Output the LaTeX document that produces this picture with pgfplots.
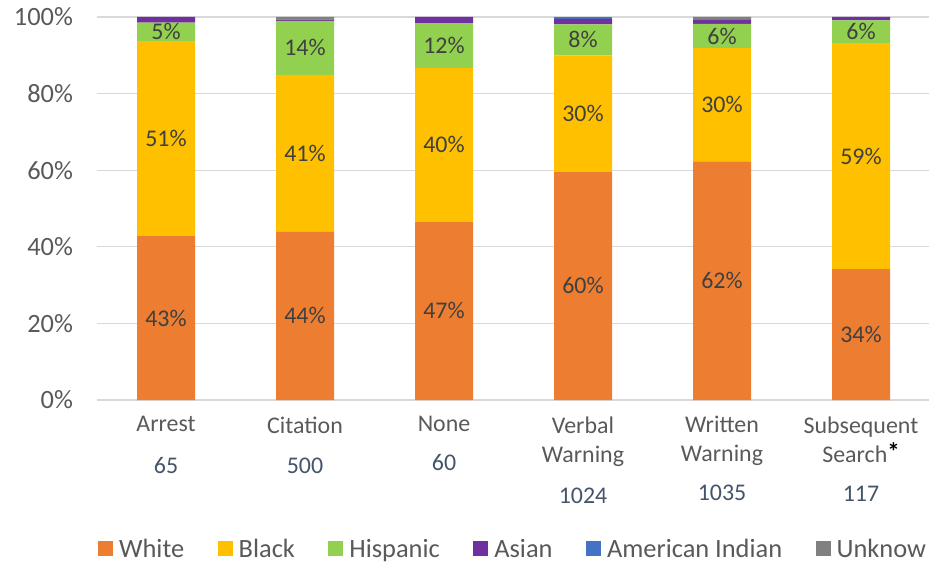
\documentclass[border=0pt]{standalone}
\usepackage{pgfplots}
\pgfplotsset{compat=1.18}
\usepackage{fontspec}
\setmainfont{Carlito}
\definecolor{cWhite}{HTML}{ED7D31}
\definecolor{cBlack}{HTML}{FFC000}
\definecolor{cHisp}{HTML}{92D050}
\definecolor{cAsian}{HTML}{7030A0}
\definecolor{cAI}{HTML}{4472C4}
\definecolor{cUnk}{HTML}{808080}
\definecolor{labgray}{HTML}{595959}
\definecolor{valtext}{HTML}{404040}
\definecolor{numblue}{HTML}{44546A}
\definecolor{gridgray}{HTML}{D9D9D9}
\newcommand{\cfont}{\fontsize{24}{29}\selectfont}
\newcommand{\bfont}{\fontsize{26.5}{31}\selectfont}
\tikzset{vl/.style={font=\cfont, text=valtext}, nl/.style={font=\cfont, text=numblue}}
\pgfplotsset{geom/.style={at={(96.5bp,164bp)}, anchor=south west,
  width=834bp, height=383bp, scale only axis,
  xmin=-0.5, xmax=5.5, ymin=0, ymax=100, clip=false}}
\begin{document}
\begin{tikzpicture}
\useasboundingbox (0bp,0bp) rectangle (929bp,564bp);
\begin{axis}[
  geom,
  ybar stacked, bar width=58bp,
  axis line style={draw=none},
  major tick length=0,
  xtick={0,1,2,3,4,5},
  xticklabels={Arrest,Citation,None,{Verbal\\Warning},{Written\\Warning},{Subsequent\\Search{\color{black}\fontsize{25}{25}\selectfont\bfseries\raisebox{1.5bp}{*}}}},
  xticklabel style={align=center, font=\cfont, text=labgray, yshift=-13bp},
  ytick={0,20,40,60,80,100},
  yticklabel={\pgfmathprintnumber{\tick}\%},
  yticklabel style={font=\bfont, text=labgray, xshift=-20bp},
  /pgf/number format/assume math mode=true,
  ymajorgrids=true,
  major grid style={draw=gridgray, line width=1.2bp},
  legend columns=6,
  legend style={at={(0.4995,-0.389)}, anchor=center, draw=none, fill=none,
    font=\bfont, text=labgray, nodes={inner ysep=0bp},
    /tikz/every odd column/.append style={column sep=4bp},
    /tikz/every even column/.append style={column sep=31.5bp}},
  legend image code/.code={\fill[#1] (0bp,-7.5bp) rectangle (15bp,7.5bp);},
]
\addplot[fill=cWhite, draw=none] coordinates {(0,42.8) (1,43.9) (2,46.6) (3,59.6) (4,62.3) (5,34.2)};
\addplot[fill=cBlack, draw=none] coordinates {(0,50.9) (1,41.0) (2,40.1) (3,30.4) (4,29.6) (5,59.0)};
\addplot[fill=cHisp, draw=none] coordinates {(0,4.8) (1,14.1) (2,11.7) (3,8.1) (4,6.3) (5,5.9)};
\addplot[fill=cAsian, draw=none] coordinates {(0,1.5) (1,0.3) (2,1.6) (3,1.4) (4,1.2) (5,0.9)};
\addplot[fill=cAI, draw=none] coordinates {(0,0) (1,0) (2,0) (3,0.5) (4,0) (5,0)};
\addplot[fill=cUnk, draw=none] coordinates {(0,0) (1,0.7) (2,0) (3,0) (4,0.6) (5,0)};
\legend{White,Black,Hispanic,Asian,American Indian,Unknow}
\node[nl] at (axis cs:0,-17.2) {65};
\node[nl] at (axis cs:1,-17.2) {500};
\node[nl] at (axis cs:2,-16.2) {60};
\node[nl] at (axis cs:3,-25.1) {1024};
\node[nl] at (axis cs:4,-24.3) {1035};
\node[nl] at (axis cs:5,-24.5) {117};
\end{axis}
\begin{axis}[geom, hide axis]
\addplot[draw=none, mark=none, nodes near coords, point meta=explicit symbolic,
  nodes near coords align=center,
  every node near coord/.append style={font=\cfont, text=valtext, anchor=center}]
  coordinates {
  (0,21.4) [43\%] (0,68.25) [51\%] (0,96.1) [5\%]
  (1,21.95) [44\%] (1,64.4) [41\%] (1,91.95) [14\%]
  (2,23.3) [47\%] (2,66.65) [40\%] (2,92.55) [12\%]
  (3,29.8) [60\%] (3,74.8) [30\%] (3,94.05) [8\%]
  (4,31.15) [62\%] (4,77.1) [30\%] (4,95.05) [6\%]
  (5,17.1) [34\%] (5,63.7) [59\%] (5,96.15) [6\%]
  };
\end{axis}
\end{tikzpicture}
\end{document}
